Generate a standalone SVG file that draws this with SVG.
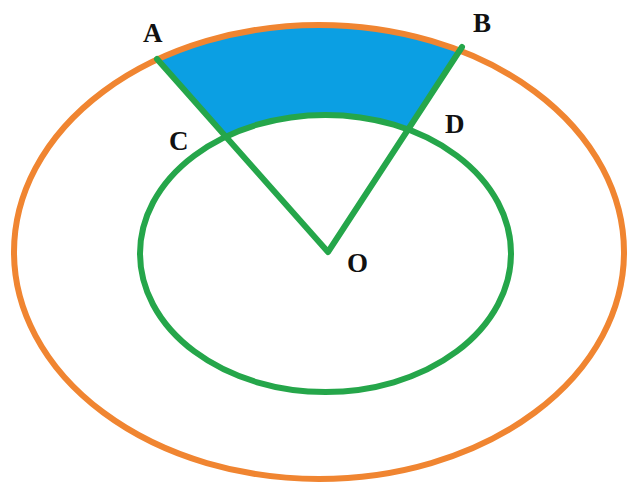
<svg xmlns="http://www.w3.org/2000/svg" width="629" height="484" viewBox="0 0 629 484">
<style>
.lbl{font-family:"Liberation Serif","Times New Roman",serif;font-weight:bold;font-size:27px;fill:#111}
.grn{fill:none;stroke:#25a64a;stroke-width:6;stroke-linecap:round;stroke-linejoin:round}
.org{fill:none;stroke:#f08531;stroke-width:6}
</style>
<rect width="629" height="484" fill="#ffffff"/>
<g id="sector">
<path d="M157,60 L225.5,136.8 A185.5,138.5 0 0 1 409.7,127.6 L460.2,50.8 A305,227 0 0 0 157,60 Z" fill="#0b9fe3"/>
</g>
<g id="outer-circle">
<ellipse cx="319" cy="252" rx="305" ry="227" class="org"/>
</g>
<g id="inner-circle">
<ellipse cx="325.5" cy="253.5" rx="185.5" ry="138.5" class="grn"/>
</g>
<g id="connectors">
<polyline points="157,59 328,252 462,47" class="grn"/>
</g>
<g id="label-A"><text x="143" y="42" class="lbl">A</text></g>
<g id="label-B"><text x="473" y="32" class="lbl">B</text></g>
<g id="label-C"><text x="169" y="150" class="lbl">C</text></g>
<g id="label-D"><text x="445" y="133" class="lbl">D</text></g>
<g id="label-O"><text x="347" y="272" class="lbl">O</text></g>
</svg>
